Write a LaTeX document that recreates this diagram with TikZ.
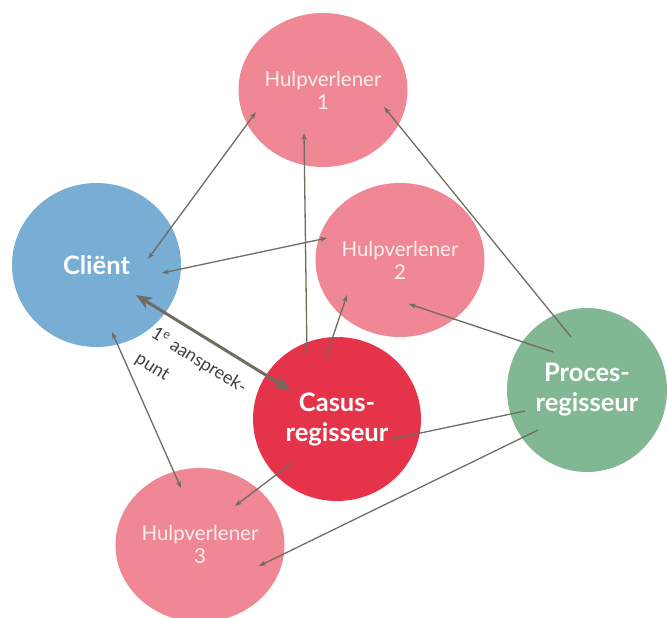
\documentclass[tikz,border=0pt]{standalone}
\usepackage{fontspec}
\setmainfont{Lato}
\usetikzlibrary{shapes.geometric,arrows.meta}
\definecolor{cblue}{HTML}{78AED4}
\definecolor{cpink}{HTML}{F08794}
\definecolor{cred}{HTML}{E5334A}
\definecolor{cgreen}{HTML}{82B793}
\definecolor{cline}{HTML}{6F6C61}
\definecolor{ctxt}{HTML}{FDEEF0}
\definecolor{clbl}{HTML}{404040}
\begin{document}
\begin{tikzpicture}[x=1pt,y=-1pt,
  bubble/.style={ellipse, inner sep=0pt, minimum width=169pt, align=center},
  hv/.style={bubble, fill=cpink, minimum height=154pt, text=ctxt, font=\fontsize{20.5}{23}\selectfont},
  keyb/.style={bubble, text=white, font=\fontsize{25.5}{30}\selectfont\bfseries},
  link/.style={draw=cline, line width=1.3pt, -{Stealth[length=7pt,width=5pt]}},
  both/.style={link, {Stealth[length=7pt,width=5pt]}-{Stealth[length=7pt,width=5pt]}},
  thick2/.style={draw=cline, line width=3pt, {Stealth[length=16pt,width=13pt]}-{Stealth[length=16pt,width=13pt]}},
  lbl/.style={font=\fontsize{18}{30}\selectfont, text=clbl, align=left, inner sep=0pt}
]
\useasboundingbox (0,0) rectangle (667,618);
\node[hv] (h1) at (323,90) {Hulpverlener\\1};
\node[hv] (h2) at (400,260) {Hulpverlener\\2};
\node[hv] (h3) at (200,545) {Hulpverlener\\3};
\node[keyb, fill=cblue, minimum height=164pt] (cl) at (96.5,265) {Cliënt};
\node[keyb, fill=cred, minimum width=168pt, minimum height=164pt] (cr) at (337,419) {Casus-\\regisseur};
\node[keyb, fill=cgreen, minimum width=160pt, minimum height=164pt] (pr) at (587,390) {Proces-\\regisseur};

\coordinate (a1s) at (256,112); \coordinate (a1e) at (148,259);
\coordinate (a2s) at (307,355); \coordinate (a2e) at (304,133);
\coordinate (a3s) at (571,337); \coordinate (a3e) at (384,107);
\coordinate (a4s) at (162,273); \coordinate (a4e) at (327,238);
\coordinate (a5s) at (326,357); \coordinate (a5e) at (347,295);
\coordinate (a6s) at (553,352); \coordinate (a6e) at (409,304);
\coordinate (a7s) at (136,295); \coordinate (a7e) at (290,390);
\coordinate (a8s) at (112,332); \coordinate (a8e) at (181,488);
\coordinate (a9s) at (525,411); \coordinate (a9e) at (392,439);
\coordinate (a10s) at (293,462); \coordinate (a10e) at (235,506);
\coordinate (a11s) at (538,430); \coordinate (a11e) at (259,566);

\draw[both] (a1s) -- (a1e);
\draw[link] (a2s) -- (a2e);
\draw[link] (a3s) -- (a3e);
\draw[both] (a4s) -- (a4e);
\draw[link] (a5s) -- (a5e);
\draw[link] (a6s) -- (a6e);
\draw[thick2] (a7s) -- (a7e);
\draw[both] (a8s) -- (a8e);
\draw[link] (a9s) -- (a9e);
\draw[link] (a10s) -- (a10e);
\draw[link] (a11s) -- (a11e);

\node[lbl, rotate=-32, anchor=north west] (lab) at (157,325) {1\textsuperscript{e} aanspreek-\\punt};
\end{tikzpicture}
\end{document}
